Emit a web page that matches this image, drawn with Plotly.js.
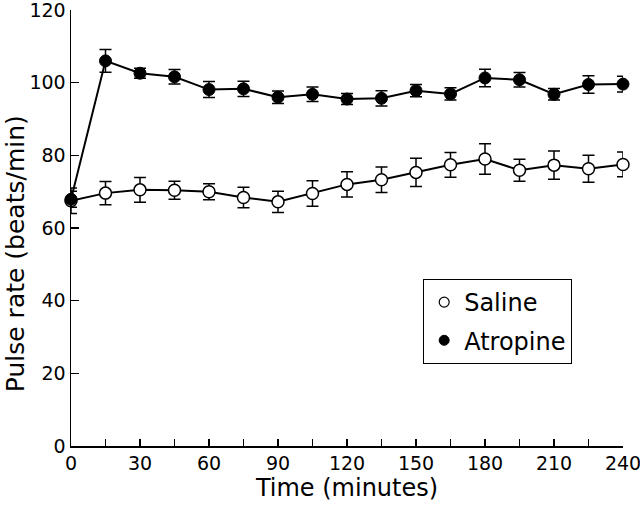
<!DOCTYPE html>
<html>
<head>
<meta charset="utf-8">
<script src="https://cdn.plot.ly/plotly-3.0.1.min.js"></script>
<style>html,body{margin:0;padding:0;background:#fff}#chart{width:640px;height:507px}</style>
</head>
<body>
<div id="chart"></div>
<script>
const times = [0,15,30,45,60,75,90,105,120,135,150,165,180,195,210,225,240];
const salineMean = [67.5,69.6,70.5,70.4,70.0,68.4,67.2,69.5,72.0,73.3,75.3,77.4,79.0,75.9,77.3,76.3,77.5];
const salineErr  = [3.5,3.2,3.4,2.5,2.2,2.8,2.9,3.5,3.5,3.5,3.9,3.4,4.2,3.0,3.9,3.7,3.4];
const atropineMean = [67.9,106.0,102.6,101.6,98.1,98.3,96.0,96.8,95.5,95.7,97.8,96.9,101.3,100.8,96.8,99.5,99.6];
const atropineErr  = [2.2,3.1,1.4,2.0,2.2,2.1,1.7,2.0,1.5,2.1,1.7,1.7,2.4,2.0,1.6,2.4,2.2];
const xTickVals = [0,15,30,45,60,75,90,105,120,135,150,165,180,195,210,225,240];
const xTickText = ['0','','30','','60','','90','','120','','150','','180','','210','','240'];
const yTickVals = [0,20,40,60,80,100,120];
const xTitle = 'Time (minutes)';
const yTitle = 'Pulse rate (beats/min)';

const FONT = 'DejaVu Sans, Liberation Sans, Arial, sans-serif';
const errStyle = {color:'#000', thickness:1.5, width:6};

const traces = [
  {x:times, y:salineMean, type:'scatter', mode:'lines+markers', name:'Saline', showlegend:false,
   cliponaxis:false,
   line:{color:'#000', width:2},
   marker:{symbol:'circle', size:12, color:'#fff', line:{color:'#000', width:1.5}},
   error_y:Object.assign({type:'data', array:salineErr, visible:true}, errStyle)},
  {x:times, y:atropineMean, type:'scatter', mode:'lines+markers', name:'Atropine', showlegend:false,
   cliponaxis:false,
   line:{color:'#000', width:2},
   marker:{symbol:'circle', size:12, color:'#000', line:{color:'#000', width:1}},
   error_y:Object.assign({type:'data', array:atropineErr, visible:true}, errStyle)},
  {x:[null], y:[null], type:'scatter', mode:'markers', name:'Saline', legendgroup:'s',
   marker:{symbol:'circle', size:10, color:'#fff', line:{color:'#000', width:1.2}}},
  {x:[null], y:[null], type:'scatter', mode:'markers', name:'Atropine', legendgroup:'a',
   marker:{symbol:'circle', size:10, color:'#000', line:{color:'#000', width:1}}}
];

const layout = {
  width:640, height:507,
  margin:{l:71, r:17, t:10, b:61},
  paper_bgcolor:'#fff', plot_bgcolor:'#fff',
  font:{family:FONT, color:'#000', size:19},
  showlegend:true,
  legend:{x:0.638, y:0.383, xanchor:'left', yanchor:'top',
    bordercolor:'#000', borderwidth:1, bgcolor:'#fff',
    font:{family:FONT, size:24, color:'#000'}, itemwidth:30, tracegroupgap:4},
  xaxis:{range:[0,240], tickvals:xTickVals, ticktext:xTickText,
    ticks:'inside', ticklen:7, tickwidth:1.2, tickcolor:'#000',
    showline:true, linecolor:'#000', linewidth:1.5, showgrid:false, zeroline:false,
    tickfont:{family:FONT, size:19}, fixedrange:true, ticklabeloverflow:'allow',
    title:{text:xTitle, font:{family:FONT, size:24}, standoff:4}},
  yaxis:{range:[0,120], tickvals:yTickVals,
    ticks:'inside', ticklen:8, tickwidth:1.2, tickcolor:'#000',
    showline:true, linecolor:'#000', linewidth:1.5, showgrid:false, zeroline:false,
    tickfont:{family:FONT, size:19}, fixedrange:true, ticklabeloverflow:'allow'},
  annotations:[{text:yTitle, textangle:-90, showarrow:false, borderpad:0,
    xref:'paper', yref:'paper', x:0, y:0.44, xanchor:'center', yanchor:'middle',
    xshift:-56, font:{family:FONT, size:25, color:'#000'}}]
};

Plotly.newPlot('chart', traces, layout, {displayModeBar:false, staticPlot:true});
</script>
</body>
</html>
